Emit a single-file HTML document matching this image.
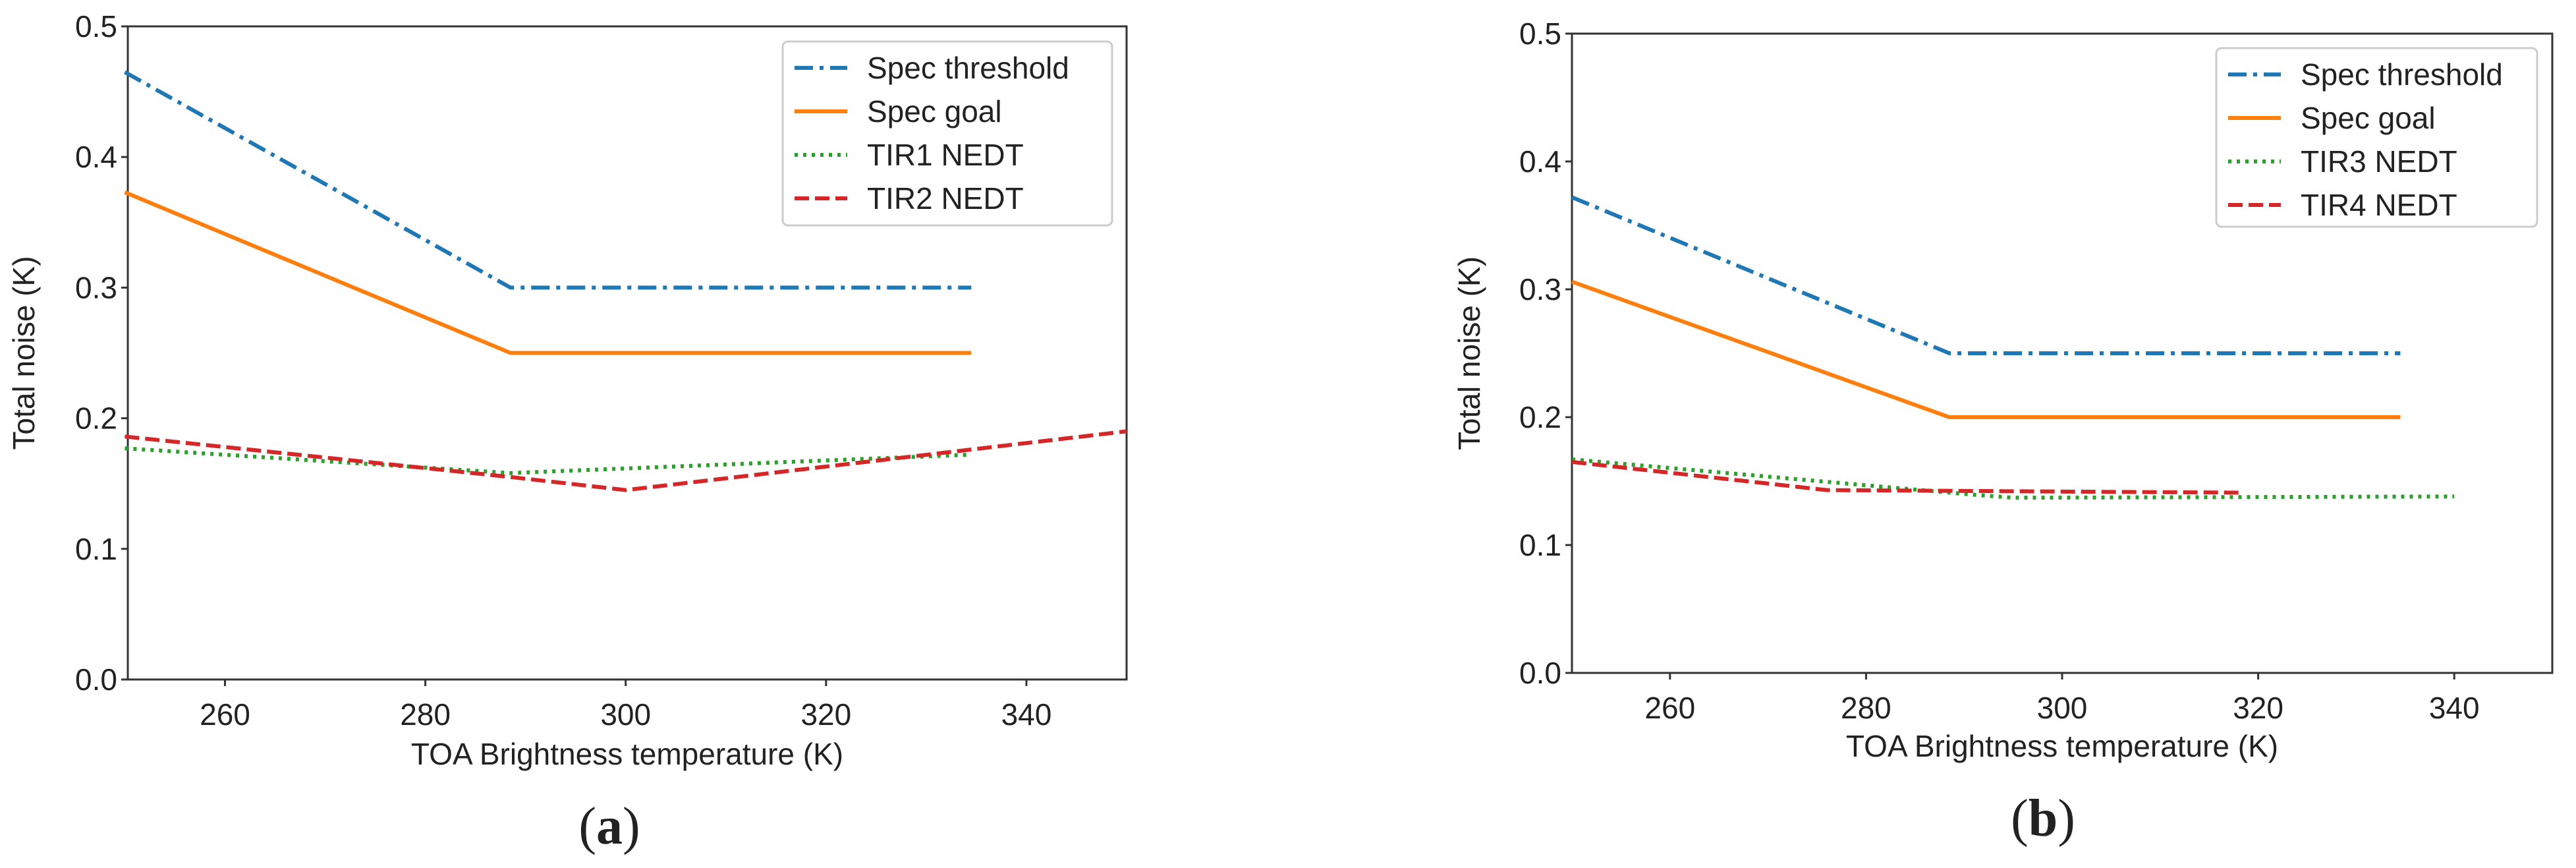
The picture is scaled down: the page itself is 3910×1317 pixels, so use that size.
<!DOCTYPE html>
<html><head><meta charset="utf-8"><style>
html,body{margin:0;padding:0;background:#fff;}
svg{display:block;}
text{font-family:"Liberation Sans",sans-serif;fill:#222;}
</style></head><body>
<svg id="chart" width="3910" height="1317" viewBox="0 0 3910 1317" xmlns="http://www.w3.org/2000/svg"></svg>
<script>
// Panel (a)
const aThreshX = [250, 288.5, 334.5];
const aThreshY = [0.465, 0.30, 0.30];
const aGoalX = [250, 288.5, 334.5];
const aGoalY = [0.373, 0.25, 0.25];
const aTir1X = [250, 288.5, 334];
const aTir1Y = [0.177, 0.158, 0.172];
const aTir2X = [250, 288.5, 300, 350];
const aTir2Y = [0.186, 0.155, 0.145, 0.19];
// Panel (b)
const bThreshX = [250, 288.5, 334.5];
const bThreshY = [0.372, 0.25, 0.25];
const bGoalX = [250, 288.5, 334.5];
const bGoalY = [0.306, 0.20, 0.20];
const bTir3X = [250, 290, 295, 340];
const bTir3Y = [0.167, 0.140, 0.137, 0.138];
const bTir4X = [250, 276, 318];
const bTir4Y = [0.165, 0.143, 0.141];
const xTicks = [260, 280, 300, 320, 340];
const yTicks = [0.0, 0.1, 0.2, 0.3, 0.4, 0.5];
const yTickLabels = ["0.0","0.1","0.2","0.3","0.4","0.5"];
const legendA = ["Spec threshold","Spec goal","TIR1 NEDT","TIR2 NEDT"];
const legendB = ["Spec threshold","Spec goal","TIR3 NEDT","TIR4 NEDT"];

const NS="http://www.w3.org/2000/svg";
const svg=document.getElementById('chart');
function mk(tag,attrs,parent){const e=document.createElementNS(NS,tag);for(const k in attrs)e.setAttribute(k,attrs[k]);(parent||svg).appendChild(e);return e;}
const styles=[
 {stroke:'#1f77b4',dash:'28 10 6 10'},
 {stroke:'#ff7f0e',dash:''},
 {stroke:'#2ca02c',dash:'5 8'},
 {stroke:'#d62728',dash:'22 9'}
];
function panel(cfg){
  const g=mk('g',{});
  
  
  const X=v=>cfg.L+(v-cfg.x0)/(cfg.x1-cfg.x0)*(cfg.R-cfg.L);
  const Y=v=>cfg.B-(v-0)/(0.5)*(cfg.B-cfg.T);
  const frame=mk('rect',{x:cfg.L,y:cfg.T,width:cfg.R-cfg.L,height:cfg.B-cfg.T,fill:'none',stroke:'#333','stroke-width':3},g);
  
  
  xTicks.forEach(t=>{
    mk('line',{x1:X(t),x2:X(t),y1:cfg.B,y2:cfg.B+10,stroke:'#333','stroke-width':3},g);
    const tx=mk('text',{x:X(t),y:cfg.xtY,'font-size':46,'text-anchor':'middle'},g);
    tx.textContent=t;
    
    
  });
  yTicks.forEach((t,i)=>{
    mk('line',{x1:cfg.L-10,x2:cfg.L,y1:Y(t),y2:Y(t),stroke:'#333','stroke-width':3},g);
    const tx=mk('text',{x:cfg.L-16,y:Y(t)+16,'font-size':46,'text-anchor':'end'},g);
    tx.textContent=yTickLabels[i];
    
    
  });
  const xl=mk('text',{x:(cfg.L+cfg.R)/2,y:cfg.xlY,'font-size':46,'text-anchor':'middle'},g);
  xl.textContent='TOA Brightness temperature (K)';
  
  
  const yl=mk('text',{x:0,y:0,'font-size':46,'text-anchor':'middle',transform:`translate(${cfg.ylX},${(cfg.T+cfg.B)/2}) rotate(-90)`},g);
  yl.textContent='Total noise (K)';
  
  
  cfg.series.forEach((s,i)=>{
    const d=s[0].map((x,j)=>(j?'L':'M')+X(x).toFixed(1)+' '+Y(s[1][j]).toFixed(1)).join(' ');
    const p=mk('path',{d:d,fill:'none',stroke:styles[i].stroke,'stroke-width':6,'stroke-dasharray':styles[i].dash,'stroke-linejoin':'round'},g);
    
    
  });
  const lg=mk('g',{},g);
  
  
  mk('rect',{x:cfg.lgX,y:cfg.lgY,width:cfg.lgW,height:cfg.lgH,rx:8,fill:'#fff',stroke:'#ccc','stroke-width':3},lg);
  cfg.legend.forEach((name,i)=>{
    const yy=cfg.lgY+40+i*66;
    mk('line',{x1:cfg.lgX+18,x2:cfg.lgX+98,y1:yy,y2:yy,stroke:styles[i].stroke,'stroke-width':6,'stroke-dasharray':styles[i].dash},lg);
    const t=mk('text',{x:cfg.lgX+128,y:yy+16,'font-size':46},lg);
    t.textContent=name;
    
    
  });
  const cap=mk('text',{x:cfg.capX,y:cfg.capY,'font-size':80,'text-anchor':'middle',style:'font-family:"Liberation Serif",serif'},g);
  cap.innerHTML=cfg.cap;
  
  
}
panel({name:'panel-a',L:194,R:1710,T:40,B:1031,x0:250.3,x1:350,xtY:1100,xlY:1160,ylX:52,
  lgX:1188,lgY:63,lgW:500,lgH:279,legend:legendA,capX:925,capY:1280,
  cap:'(<tspan font-weight="bold">a</tspan>)',
  series:[[aThreshX,aThreshY],[aGoalX,aGoalY],[aTir1X,aTir1Y],[aTir2X,aTir2Y]]});
panel({name:'panel-b',L:2386,R:3874,T:51,B:1021,x0:250,x1:350,xtY:1090,xlY:1148,ylX:2246,
  lgX:3364,lgY:73,lgW:487,lgH:271,legend:legendB,capX:3101,capY:1268,
  cap:'(<tspan font-weight="bold">b</tspan>)',
  series:[[bThreshX,bThreshY],[bGoalX,bGoalY],[bTir3X,bTir3Y],[bTir4X,bTir4Y]]});
</script>
</body></html>
